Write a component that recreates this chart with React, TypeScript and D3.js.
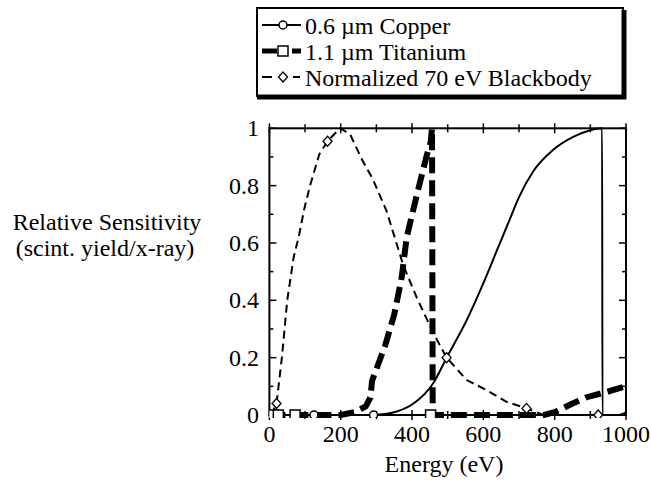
import React from "react";
import * as d3 from "d3";

const xTicks = [0, 200, 400, 600, 800, 1000];
const xMinorTicks = [100, 300, 500, 700, 900];
const yTicks = [0, 0.2, 0.4, 0.6, 0.8, 1];
const yTickLabels = ["0", "0.2", "0.4", "0.6", "0.8", "1"];
const yMinorTicks = [0.1, 0.3, 0.5, 0.7, 0.9];
const seriesNames = ["0.6 µm Copper", "1.1 µm Titanium", "Normalized 70 eV Blackbody"];

const copper: [number, number][] = [
  [0, 0], [290, 0], [330, 0.004], [357, 0.012], [404, 0.04], [459, 0.11], [497, 0.2],
  [553, 0.33], [600, 0.46], [640, 0.58], [670, 0.67], [700, 0.76], [740, 0.85],
  [796, 0.925], [852, 0.97], [900, 0.993], [933, 1], [934, 0], [980, 0], [1000, 0.01],
];
const copperMarks: [number, number][] = [[12, 0], [125, 0], [292, 0]];

const titanium: [number, number][] = [
  [0, 0], [200, 0], [240, 0.01], [270, 0.03], [283, 0.06], [288, 0.12], [324, 0.24],
  [350, 0.35], [371, 0.48], [385, 0.62], [410, 0.75], [440, 0.9], [452, 0.95], [456, 1],
  [458, 0], [720, 0], [770, 0.0], [800, 0.01], [850, 0.04], [890, 0.062], [950, 0.082], [1000, 0.1],
];
const titaniumMarks: [number, number][] = [[10, 0], [25, 0], [72, 0], [452, 0]];

const blackbody: [number, number][] = [
  [5, 0], [20, 0.04], [35, 0.2], [50, 0.4], [68, 0.55], [82, 0.62], [98, 0.72], [114, 0.8],
  [140, 0.91], [163, 0.955], [198, 1], [226, 0.98], [260, 0.89], [291, 0.82], [329, 0.71],
  [376, 0.52], [413, 0.41], [460, 0.285], [497, 0.2], [553, 0.122], [609, 0.087],
  [665, 0.046], [721, 0.023], [768, 0], [922, 0], [1000, 0],
];
const blackbodyMarks: [number, number][] = [[20, 0.04], [163, 0.955], [497, 0.2], [721, 0.023], [922, 0]];

const TF = { fontFamily: '"Liberation Serif"' };

export default function App() {
  const x = d3.scaleLinear().domain([0, 1000]).range([269.4, 626]);
  const y = d3.scaleLinear().domain([0, 1]).range([415, 128.3]);
  const line = d3.line<[number, number]>().x((d) => x(d[0])).y((d) => y(d[1]));
  const smooth = d3.line<[number, number]>().x((d) => x(d[0])).y((d) => y(d[1])).curve(d3.curveMonotoneX);
  const [x0, x1] = x.range();
  const [y0, y1] = y.range();

  const circle = (cx: number, cy: number, k: string) => (
    <circle key={k} cx={cx} cy={cy} r={4} fill="white" stroke="black" strokeWidth={1.5} />
  );
  const square = (cx: number, cy: number, k: string) => (
    <rect key={k} x={cx - 5} y={cy - 5} width={10} height={10} fill="white" stroke="black" strokeWidth={1.5} />
  );
  const diamond = (cx: number, cy: number, k: string) => (
    <path key={k} d={`M${cx},${cy - 5}L${cx + 4.5},${cy}L${cx},${cy + 5}L${cx - 4.5},${cy}Z`} fill="white" stroke="black" strokeWidth={1.3} />
  );

  const legendRows = [
    { name: seriesNames[0], segs: [[262, 301]], w: 2, mk: circle, cy: 25 },
    { name: seriesNames[1], segs: [[262, 277], [292, 301]], w: 5, mk: square, cy: 51 },
    { name: seriesNames[2], segs: [[262, 272], [293, 300]], w: 2, mk: diamond, cy: 77 },
  ];

  return (
    <svg width={651} height={480} style={{ position: "absolute", left: 0, top: 0, background: "white" }}>
      <defs>
        <clipPath id="plot">
          <rect x={x0} y={y1 - 3} width={x1 - x0} height={y0 - y1 + 6} />
        </clipPath>
      </defs>
      {/* Legend */}
      <rect x={257} y={8} width={366} height={88} fill="white" stroke="black" strokeWidth={2} />
      <line x1={257} x2={626} y1={97} y2={97} stroke="black" strokeWidth={5} />
      <line x1={624} x2={624} y1={10} y2={99} stroke="black" strokeWidth={5} />
      {legendRows.map((r, i) => (
        <g key={i}>
          {r.segs.map((s, j) => (
            <line key={j} x1={s[0]} x2={s[1]} y1={r.cy} y2={r.cy} stroke="black" strokeWidth={r.w} />
          ))}
          {r.mk(283, r.cy, "lm" + i)}
          <text x={305} y={r.cy + 9} fontSize={24} style={TF}>{r.name}</text>
        </g>
      ))}

      {/* Plot frame */}
      <rect x={x0} y={y1} width={x1 - x0} height={y0 - y1} fill="none" stroke="black" strokeWidth={2} />
      {xTicks.map((t) => (
        <g key={"xt" + t}>
          <line x1={x(t)} x2={x(t)} y1={y0 - 5} y2={y0 + 5} stroke="black" strokeWidth={1.5} />
          <line x1={x(t)} x2={x(t)} y1={y1 - 5} y2={y1 + 5} stroke="black" strokeWidth={1.5} />
          <text x={x(t)} y={442} fontSize={24} textAnchor="middle" style={TF}>{t}</text>
        </g>
      ))}
      {xMinorTicks.map((t) => (
        <g key={"xm" + t}>
          <line x1={x(t)} x2={x(t)} y1={y0 - 4} y2={y0 + 4} stroke="black" strokeWidth={1.5} />
          <line x1={x(t)} x2={x(t)} y1={y1 - 4} y2={y1 + 4} stroke="black" strokeWidth={1.5} />
        </g>
      ))}
      {yTicks.map((t, i) => (
        <g key={"yt" + t}>
          <line x1={x0} x2={x0 + 7} y1={y(t)} y2={y(t)} stroke="black" strokeWidth={1.5} />
          <line x1={x1} x2={x1 - 7} y1={y(t)} y2={y(t)} stroke="black" strokeWidth={1.5} />
          <text x={259} y={y(t) + 8} fontSize={24} textAnchor="end" style={TF}>{yTickLabels[i]}</text>
        </g>
      ))}
      {yMinorTicks.map((t) => (
        <g key={"ym" + t}>
          <line x1={x0} x2={x0 + 4} y1={y(t)} y2={y(t)} stroke="black" strokeWidth={1.5} />
          <line x1={x1} x2={x1 - 4} y1={y(t)} y2={y(t)} stroke="black" strokeWidth={1.5} />
        </g>
      ))}

      {/* Axis titles */}
      <text x={444} y={472} fontSize={24} textAnchor="middle" style={TF}>Energy (eV)</text>
      <text x={107} y={230} fontSize={24} textAnchor="middle" style={TF}>Relative Sensitivity</text>
      <text x={105} y={256} fontSize={24} textAnchor="middle" style={TF}>(scint. yield/x-ray)</text>

      {/* Series */}
      <g clipPath="url(#plot)">
        <path d={line(blackbody) || ""} fill="none" stroke="black" strokeWidth={2} strokeDasharray="8,5" />
        <path d={line(titanium) || ""} fill="none" stroke="black" strokeWidth={6} strokeDasharray="16,7" />
        <path d={smooth(copper) || ""} fill="none" stroke="black" strokeWidth={2} />
        {copperMarks.map((d, i) => circle(x(d[0]), y(d[1]), "cm" + i))}
        {titaniumMarks.map((d, i) => square(x(d[0]), y(d[1]), "tm" + i))}
        {blackbodyMarks.map((d, i) => diamond(x(d[0]), y(d[1]), "bm" + i))}
      </g>
    </svg>
  );
}
